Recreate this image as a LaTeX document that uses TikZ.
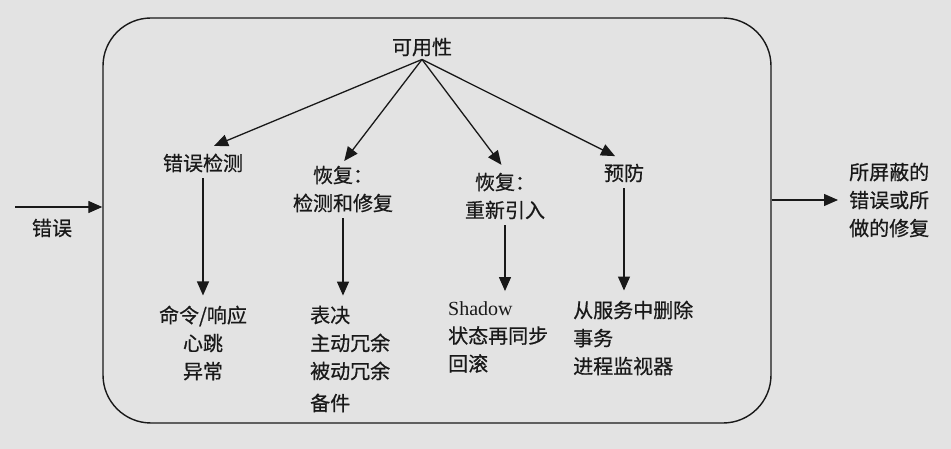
\documentclass[tikz,border=0pt]{standalone}
\usepackage{fontspec}
\setmainfont{Liberation Serif}
\newfontfamily\cjkfont[FakeBold=0.6]{Noto Sans CJK SC}
\usetikzlibrary{arrows.meta}

\tikzset{
	labeltext/.style	= {font=\cjkfont\fontsize{20}{28}\selectfont, inner sep=3pt, text=black!90},
	arr/.style			= {line width=1.3pt, draw=black!90, -{Triangle[length=14pt,width=12pt]}},
	downarr/.style		= {arr, shorten <=3pt, shorten >=7pt}
}

\begin{document}
\begin{tikzpicture}[x=1pt, y=-1pt]
				%\draw[help lines] (0,0) grid (951,449);
				\fill[black!11] (0,0) rectangle (951,449);
				\useasboundingbox (0,0) rectangle (951,449);
				
				% the system
				\node[draw=black!90, line width=1.4pt, rounded corners=48pt,
				minimum width=668pt, minimum height=405pt] (box) at (437,220.5) {};
				
				\node[labeltext] (avail) at (422,47) {可用性};
				\node[labeltext] (detect) at (203,163) {错误检测};
				\node[labeltext, align=center] (repair) at (343,189) {恢复：\\检测和修复};
				\node[labeltext, align=center] (reintro) at (505,196) {恢复：\\重新引入};
				\node[labeltext] (prevent) at (624,173) {预防};
				
				\node[labeltext, align=center] (cmd) at (203,343) {命令/响应\\心跳\\异常};
				\node[labeltext, align=left, anchor=west] (vote) at (307,359) {表决\\主动冗余\\被动冗余\\[4pt]备件};
				\node[labeltext, align=left, anchor=west] (shadow) at (445,337) {{\rmfamily Shadow}\\状态再同步\\回滚};
				\node[labeltext, align=left, anchor=west] (remove) at (570,338) {从服务中删除\\事务\\进程监视器};
				
				% in and out
				\coordinate (fault) at (15,207);
				\node[labeltext] (faultlbl) at (52,228) {错误};
				\node[labeltext, align=left, anchor=west] (masked) at (846,200) {所屏蔽的\\错误或所\\做的修复};
				
				\draw[arr] (fault) -- (fault -| box.west);
				\draw[arr, shorten >=8pt] (box.east |- masked.west) -- (masked.west);
				
				\draw[arr, shorten >=12pt] (avail.south) -- (detect.north);
				\draw[arr, shorten >=2pt] (avail.south) -- (repair.north);
				\draw[arr, shorten >=6pt] (avail.south) -- (reintro.north);
				\draw[arr, shorten >=10pt] (avail.south) -- (prevent.north);
				
				\draw[downarr] (detect.south) -- (cmd.north);
				\draw[downarr] (repair.south) -- (repair.south |- vote.north);
				\draw[downarr] (reintro.south) -- (reintro.south |- shadow.north);
				\draw[downarr] (prevent.south) -- (prevent.south |- remove.north);
\end{tikzpicture}
\end{document}
